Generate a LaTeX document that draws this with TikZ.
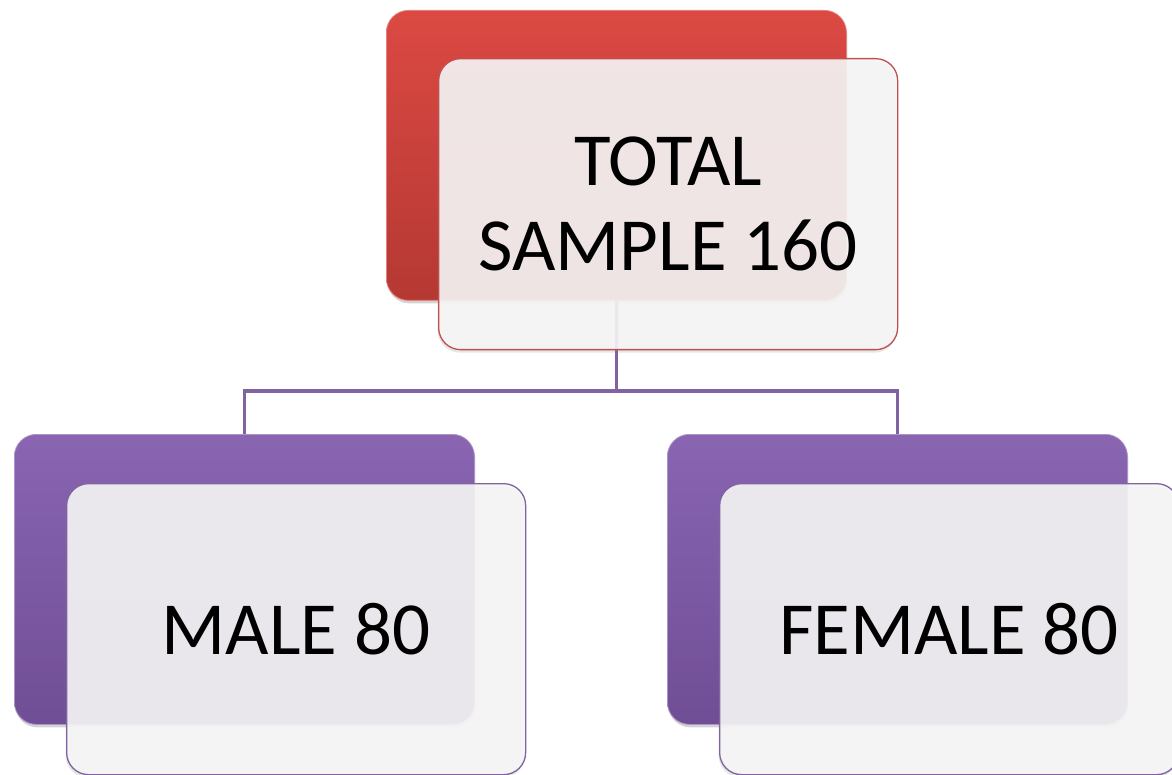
\documentclass[tikz,border=0pt]{standalone}
\usepackage{fontspec}
\setmainfont{Carlito}
\usetikzlibrary{shadows}
\definecolor{redtop}{HTML}{DC4943}
\definecolor{redmid}{HTML}{D6443F}
\definecolor{redbot}{HTML}{B53833}
\definecolor{redline}{HTML}{C0504D}
\definecolor{purtop}{HTML}{8965B2}
\definecolor{purmid}{HTML}{8461AD}
\definecolor{purbot}{HTML}{704E95}
\definecolor{purline}{HTML}{8064A2}
\definecolor{cardfill}{HTML}{F6F6F6}
\begin{document}
\begin{tikzpicture}[x=1pt,y=-1pt,
  backbox/.style={rectangle, rounded corners=22pt, minimum width=460pt,
    minimum height=290pt, inner sep=0pt, anchor=north west,
    drop shadow={opacity=0.35, shadow xshift=1pt, shadow yshift=-3pt}},
  redback/.style={backbox, top color=redtop, middle color=redmid, bottom color=redbot,
    draw=redtop!70!white, line width=0.8pt},
  purback/.style={backbox, top color=purtop, middle color=purmid, bottom color=purbot,
    draw=purtop!70!white, line width=0.8pt},
  card/.style={rectangle, rounded corners=22pt, minimum width=459pt,
    minimum height=291pt, inner sep=0pt, anchor=north west,
    fill=cardfill, fill opacity=0.9, text opacity=1, line width=1.3pt,
    align=center, font=\fontsize{75}{85}\selectfont,
    drop shadow={opacity=0.2, shadow xshift=-1pt, shadow yshift=-3pt}},
  redcard/.style={card, draw=redline},
  purcard/.style={card, draw=purline},
  conn/.style={draw=purline, line width=3.6pt}]
\useasboundingbox (0,0) rectangle (1172,775);

% coloured back plates
\node[redback] (topback) at (386,10) {};
\node[purback] (leftback) at (14,434) {};
\node[purback] (rightback) at (667,434) {};

% tree connectors
\draw[conn] (topback.south) -- ++(0,90) coordinate (bus)
  -| (leftback.north);
\draw[conn] (bus) -| (rightback.north);

% translucent front cards with labels
\node[redcard] (total) at (438,58) {TOTAL\\SAMPLE 160};
\node[purcard] (male) at (66,483) {MALE 80};
\node[purcard] (female) at (719,483) {FEMALE 80};
\end{tikzpicture}
\end{document}
